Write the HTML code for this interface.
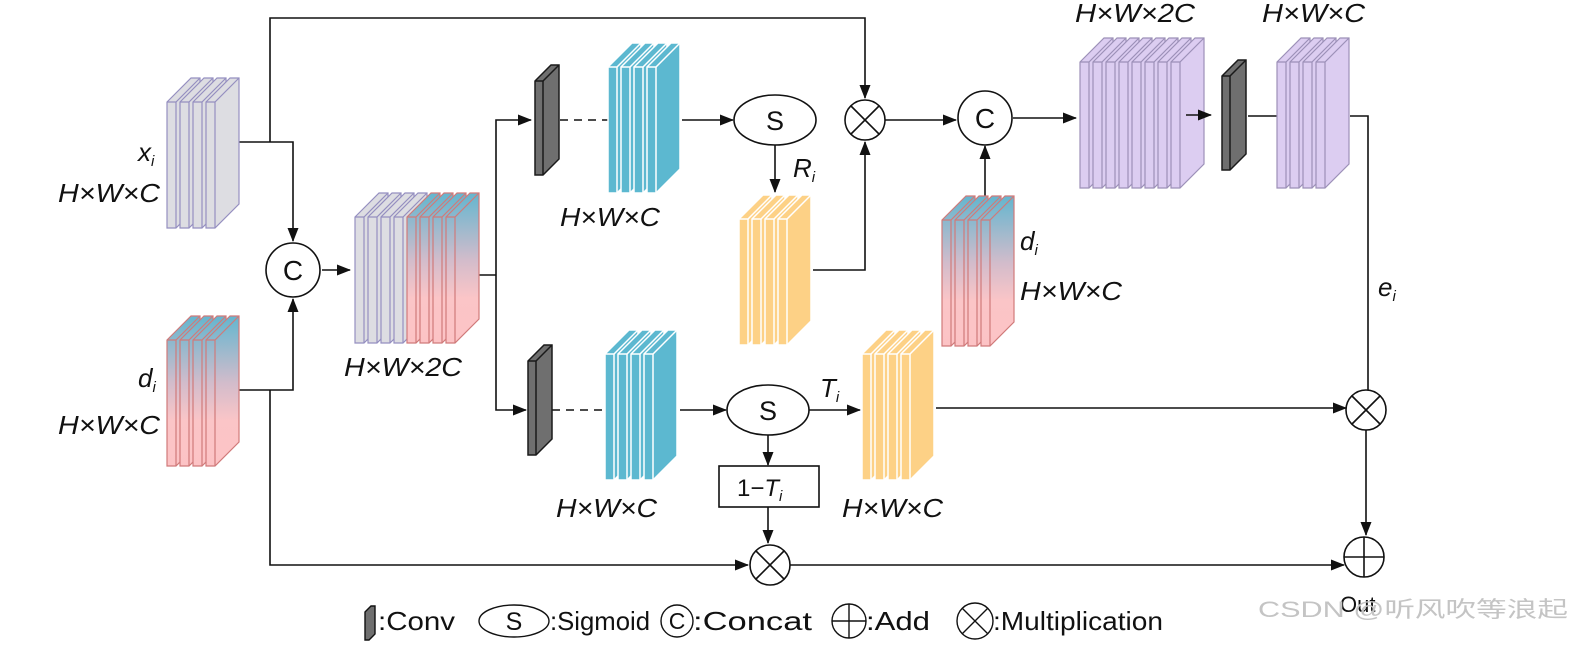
<!DOCTYPE html>
<html><head><meta charset="utf-8"><style>
html,body{margin:0;padding:0;background:#fff}
svg{display:block}
text{font-family:"Liberation Sans","Noto Sans CJK SC",sans-serif;fill:#111}
.it{font-style:italic;font-size:26px}
.sub{font-style:italic;font-size:15px}
</style></head><body>
<svg width="1584" height="650" viewBox="0 0 1584 650" xmlns="http://www.w3.org/2000/svg">
<defs>
<linearGradient id="gd" x1="0" y1="0" x2="0" y2="1">
<stop offset="0" stop-color="#63b6cf"/><stop offset="0.45" stop-color="#d3bccb"/><stop offset="0.7" stop-color="#fbc5c7"/><stop offset="1" stop-color="#fcc3c5"/>
</linearGradient>
<marker id="ar" markerWidth="14" markerHeight="11" refX="13" refY="5.5" orient="auto" markerUnits="userSpaceOnUse">
<path d="M0,0 L14,5.5 L0,11 z" fill="#111"/></marker>
<g id="sg"><polygon points="0,24 24,0 33,0 33,126 9,150 0,150" fill="#dddde2" stroke="#958fc0" stroke-width="1.2"/><polyline points="0,24 9,24 33,0" fill="none" stroke="#958fc0" stroke-width="1.2"/><line x1="9" y1="24" x2="9" y2="150" stroke="#958fc0" stroke-width="1.2"/></g>
<g id="sd"><polygon points="0,24 24,0 33,0 33,126 9,150 0,150" fill="url(#gd)" stroke="#d07a7a" stroke-width="1.2"/><polyline points="0,24 9,24 33,0" fill="none" stroke="#d07a7a" stroke-width="1.2"/><line x1="9" y1="24" x2="9" y2="150" stroke="#d07a7a" stroke-width="1.2"/></g>
<g id="sc"><polygon points="0,24 24,0 33,0 33,126 9,150 0,150" fill="#5cb8d0" stroke="#fff" stroke-width="1.5"/><polyline points="0,24 9,24 33,0" fill="none" stroke="#fff" stroke-width="1.5"/><line x1="9" y1="24" x2="9" y2="150" stroke="#fff" stroke-width="1.5"/></g>
<g id="sy"><polygon points="0,24 24,0 33,0 33,126 9,150 0,150" fill="#fdd186" stroke="#fff" stroke-width="1.5"/><polyline points="0,24 9,24 33,0" fill="none" stroke="#fff" stroke-width="1.5"/><line x1="9" y1="24" x2="9" y2="150" stroke="#fff" stroke-width="1.5"/></g>
<g id="sp"><polygon points="0,24 24,0 33,0 33,126 9,150 0,150" fill="#dccdf1" stroke="#9c90b8" stroke-width="1.2"/><polyline points="0,24 9,24 33,0" fill="none" stroke="#9c90b8" stroke-width="1.2"/><line x1="9" y1="24" x2="9" y2="150" stroke="#9c90b8" stroke-width="1.2"/></g>
<g id="cv"><polygon points="0,16 16,0 24,0 24,94 8,110 0,110" fill="#6f6f6f" stroke="#1a1a1a" stroke-width="1.5"/><polyline points="0,16 8,16 24,0" fill="none" stroke="#1a1a1a" stroke-width="1.5"/><line x1="8" y1="16" x2="8" y2="110" stroke="#1a1a1a" stroke-width="1.5"/></g>
</defs>

<g stroke="#111" stroke-width="1.6" fill="none">
<polyline points="237,142 293,142 293,241" marker-end="url(#ar)"/>
<polyline points="270,142 270,18 865,18 865,98" marker-end="url(#ar)"/>
<polyline points="237,390 293,390 293,299" marker-end="url(#ar)"/>
<polyline points="270,390 270,565 748,565" marker-end="url(#ar)"/>
<line x1="322" y1="270" x2="350" y2="270" marker-end="url(#ar)"/>
<polyline points="478,275 496,275"/>
<polyline points="496,275 496,120 531,120" marker-end="url(#ar)"/>
<polyline points="496,275 496,410 526,410" marker-end="url(#ar)"/>
<line x1="560" y1="120" x2="610" y2="120" stroke-dasharray="8,6"/>
<line x1="552" y1="410" x2="606" y2="410" stroke-dasharray="8,6"/>
<line x1="682" y1="120" x2="733" y2="120" marker-end="url(#ar)"/>
<line x1="775" y1="145" x2="775" y2="192" marker-end="url(#ar)"/>
<polyline points="813,270 865,270 865,142" marker-end="url(#ar)"/>
<line x1="885" y1="120" x2="956" y2="120" marker-end="url(#ar)"/>
<line x1="1013" y1="118" x2="1076" y2="118" marker-end="url(#ar)"/>
<line x1="985" y1="196" x2="985" y2="146" marker-end="url(#ar)"/>
<line x1="1248" y1="116" x2="1278" y2="116"/>
<polyline points="1350,116 1368,116 1368,390"/>
<line x1="680" y1="410" x2="726" y2="410" marker-end="url(#ar)"/>
<line x1="809" y1="410" x2="860" y2="410" marker-end="url(#ar)"/>
<line x1="768" y1="435" x2="768" y2="465" marker-end="url(#ar)"/>
<line x1="768" y1="507" x2="768" y2="543" marker-end="url(#ar)"/>
<line x1="936" y1="408" x2="1346" y2="408" marker-end="url(#ar)"/>
<line x1="1366" y1="430" x2="1366" y2="535" marker-end="url(#ar)"/>
<line x1="790" y1="565" x2="1344" y2="565" marker-end="url(#ar)"/>
</g>

<use href="#sg" x="167" y="78"/><use href="#sg" x="180" y="78"/><use href="#sg" x="193" y="78"/><use href="#sg" x="206" y="78"/>
<use href="#sd" x="167" y="316"/><use href="#sd" x="180" y="316"/><use href="#sd" x="193" y="316"/><use href="#sd" x="206" y="316"/>
<use href="#sg" x="355" y="193"/><use href="#sg" x="368" y="193"/><use href="#sg" x="381" y="193"/><use href="#sg" x="394" y="193"/>
<use href="#sd" x="407" y="193"/><use href="#sd" x="420" y="193"/><use href="#sd" x="433" y="193"/><use href="#sd" x="446" y="193"/>
<use href="#cv" x="535" y="65"/>
<use href="#sc" x="608" y="43"/><use href="#sc" x="621" y="43"/><use href="#sc" x="634" y="43"/><use href="#sc" x="647" y="43"/>
<use href="#sy" x="739" y="195"/><use href="#sy" x="752" y="195"/><use href="#sy" x="765" y="195"/><use href="#sy" x="778" y="195"/>
<use href="#sd" x="942" y="196"/><use href="#sd" x="955" y="196"/><use href="#sd" x="968" y="196"/><use href="#sd" x="981" y="196"/>
<use href="#sp" x="1080" y="38"/><use href="#sp" x="1093" y="38"/><use href="#sp" x="1106" y="38"/><use href="#sp" x="1119" y="38"/>
<use href="#sp" x="1132" y="38"/><use href="#sp" x="1145" y="38"/><use href="#sp" x="1158" y="38"/><use href="#sp" x="1171" y="38"/>
<use href="#cv" x="1222" y="60"/>
<use href="#sp" x="1277" y="38"/><use href="#sp" x="1290" y="38"/><use href="#sp" x="1303" y="38"/><use href="#sp" x="1316" y="38"/>
<use href="#cv" x="528" y="345"/>
<use href="#sc" x="605" y="330"/><use href="#sc" x="618" y="330"/><use href="#sc" x="631" y="330"/><use href="#sc" x="644" y="330"/>
<use href="#sy" x="862" y="330"/><use href="#sy" x="875" y="330"/><use href="#sy" x="888" y="330"/><use href="#sy" x="901" y="330"/>
<line x1="1186" y1="115" x2="1211" y2="115" stroke="#111" stroke-width="1.6" marker-end="url(#ar)"/>

<g stroke="#111" stroke-width="1.6" fill="#fff">
<circle cx="293" cy="270" r="27"/>
<circle cx="985" cy="118" r="27"/>
<ellipse cx="775" cy="120" rx="41" ry="25"/>
<ellipse cx="768" cy="410" rx="41" ry="25"/>
<circle cx="865" cy="120" r="20"/><path d="M851,106 L879,134 M879,106 L851,134"/>
<circle cx="1366" cy="410" r="20"/><path d="M1352,396 L1380,424 M1380,396 L1352,424"/>
<circle cx="770" cy="565" r="20"/><path d="M756,551 L784,579 M784,551 L756,579"/>
<circle cx="1364" cy="557" r="20"/><path d="M1344,557 L1384,557 M1364,537 L1364,577"/>
<rect x="719" y="466" width="100" height="41"/>
</g>
<text x="293" y="280" font-size="28" text-anchor="middle">C</text>
<text x="985" y="128" font-size="28" text-anchor="middle">C</text>
<text x="775" y="130" font-size="27" text-anchor="middle">S</text>
<text x="768" y="420" font-size="27" text-anchor="middle">S</text>
<text x="737" y="496" font-size="24">1−<tspan font-style="italic">T</tspan><tspan class="sub" dy="5">i</tspan></text>

<text x="138" y="161" class="it">x<tspan class="sub" dy="5">i</tspan></text>
<text x="58" y="202" class="it" textLength="102" lengthAdjust="spacingAndGlyphs">H×W×C</text>
<text x="138" y="387" class="it">d<tspan class="sub" dy="5">i</tspan></text>
<text x="58" y="434" class="it" textLength="102" lengthAdjust="spacingAndGlyphs">H×W×C</text>
<text x="344" y="376" class="it" textLength="118" lengthAdjust="spacingAndGlyphs">H×W×2C</text>
<text x="560" y="226" class="it" textLength="100" lengthAdjust="spacingAndGlyphs">H×W×C</text>
<text x="793" y="177" class="it">R<tspan class="sub" dy="5">i</tspan></text>
<text x="1020" y="250" class="it">d<tspan class="sub" dy="5">i</tspan></text>
<text x="1020" y="300" class="it" textLength="102" lengthAdjust="spacingAndGlyphs">H×W×C</text>
<text x="1075" y="22" class="it" textLength="120" lengthAdjust="spacingAndGlyphs">H×W×2C</text>
<text x="1262" y="22" class="it" textLength="103" lengthAdjust="spacingAndGlyphs">H×W×C</text>
<text x="1378" y="296" class="it">e<tspan class="sub" dy="5">i</tspan></text>
<text x="820" y="397" class="it">T<tspan class="sub" dy="5">i</tspan></text>
<text x="556" y="517" class="it" textLength="101" lengthAdjust="spacingAndGlyphs">H×W×C</text>
<text x="842" y="517" class="it" textLength="101" lengthAdjust="spacingAndGlyphs">H×W×C</text>
<text x="1340" y="612" font-size="22">Out</text>

<g stroke="#111" stroke-width="1.4" fill="#fff">
<polygon points="365,612 371,606 375,606 375,634 369,640 365,640" fill="#6f6f6f"/>
<ellipse cx="514" cy="621" rx="35" ry="16"/>
<circle cx="677" cy="621" r="16"/>
<circle cx="849" cy="621" r="17"/><path d="M832,621 L866,621 M849,604 L849,638"/>
<circle cx="975" cy="621" r="18"/><path d="M962,608 L988,634 M988,608 L962,634"/>
</g>
<text x="514" y="630" font-size="25" text-anchor="middle">S</text>
<text x="677" y="629" font-size="23" text-anchor="middle">C</text>
<text x="378" y="630" font-size="26" textLength="77" lengthAdjust="spacingAndGlyphs">:Conv</text>
<text x="550" y="630" font-size="26" textLength="100" lengthAdjust="spacingAndGlyphs">:Sigmoid</text>
<text x="693" y="630" font-size="26" textLength="119" lengthAdjust="spacingAndGlyphs">:Concat</text>
<text x="866" y="630" font-size="26" textLength="64" lengthAdjust="spacingAndGlyphs">:Add</text>
<text x="993" y="630" font-size="26" textLength="170" lengthAdjust="spacingAndGlyphs">:Multiplication</text>
<text x="1258" y="617" font-size="22" style="fill:#c4c4c4" textLength="310" lengthAdjust="spacingAndGlyphs">CSDN @听风吹等浪起</text>
</svg>
</body></html>
